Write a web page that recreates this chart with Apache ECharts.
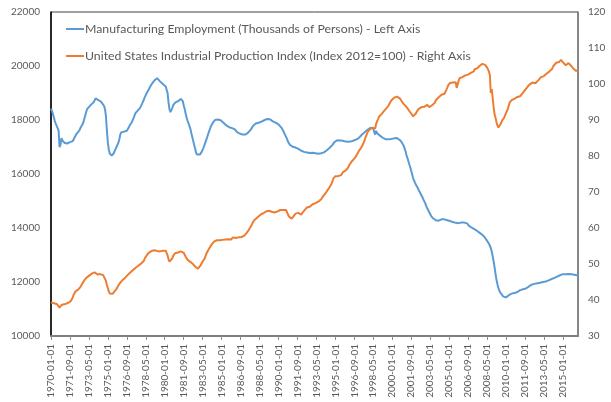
<!DOCTYPE html>
<html>
<head>
<meta charset="utf-8">
<script src="https://cdn.jsdelivr.net/npm/echarts@6/dist/echarts.min.js"></script>
<style>
  html, body { margin: 0; padding: 0; background: #fff; }
  #chart { width: 611px; height: 402px; }
</style>
</head>
<body>
<div id="chart"></div>
<script>
// monthly, 1970-01 .. 2016-05
var startYear = 1970;
var monthCount = 557;

// Manufacturing Employment, thousands of persons (left axis)
var employment = [
  18424, 18342, 18270, 18100, 17960, 17870, 17830, 17700, 17610, 17000, 17080, 17330,
  17240, 17200, 17160, 17180, 17200, 17130, 17150, 17100, 17180, 17160, 17170, 17220,
  17290, 17360, 17420, 17490, 17540, 17560, 17620, 17700, 17760, 17820, 17900, 17960,
  18150, 18280, 18400, 18450, 18480, 18520, 18560, 18580, 18600, 18660, 18720, 18800,
  18780, 18760, 18740, 18720, 18690, 18670, 18640, 18600, 18520, 18400, 18130, 17600,
  17150, 16900, 16760, 16700, 16680, 16690, 16760, 16840, 16900, 16990, 17050, 17150,
  17270, 17450, 17540, 17560, 17580, 17570, 17600, 17620, 17600, 17640, 17720, 17800,
  17860, 17900, 17960, 18060, 18150, 18250, 18300, 18330, 18380, 18400, 18450, 18520,
  18600, 18680, 18760, 18850, 18920, 19000, 19060, 19120, 19180, 19260, 19320, 19370,
  19420, 19460, 19510, 19530, 19550, 19555, 19480, 19430, 19400, 19380, 19330, 19300,
  19270, 19240, 19190, 19000, 18650, 18400, 18290, 18350, 18450, 18550, 18620, 18640,
  18640, 18660, 18700, 18740, 18770, 18780, 18760, 18700, 18550, 18420, 18250, 18100,
  17980, 17880, 17780, 17680, 17520, 17380, 17230, 17080, 16950, 16800, 16720, 16690,
  16700, 16720, 16760, 16820, 16900, 16980, 17080, 17150, 17280, 17390, 17500, 17600,
  17700, 17790, 17850, 17910, 17960, 18000, 18020, 18030, 18020, 18010, 18000, 17990,
  17960, 17930, 17900, 17870, 17840, 17800, 17770, 17740, 17730, 17720, 17710, 17700,
  17700, 17680, 17650, 17600, 17560, 17530, 17520, 17500, 17480, 17470, 17460, 17460,
  17450, 17460, 17470, 17490, 17530, 17560, 17600, 17650, 17700, 17780, 17820, 17850,
  17870, 17880, 17890, 17900, 17910, 17920, 17940, 17950, 17970, 17990, 18010, 18030,
  18040, 18050, 18040, 18030, 18010, 17980, 17950, 17930, 17910, 17900, 17880, 17860,
  17840, 17810, 17780, 17720, 17670, 17600, 17530, 17450, 17390, 17300, 17200, 17130,
  17080, 17040, 17020, 17010, 17000, 16990, 16980, 16970, 16950, 16930, 16900, 16880,
  16860, 16840, 16830, 16820, 16810, 16800, 16800, 16790, 16790, 16780, 16790, 16780,
  16790, 16800, 16780, 16770, 16760, 16750, 16750, 16740, 16760, 16770, 16790, 16800,
  16800, 16820, 16850, 16880, 16910, 16940, 16970, 17000, 17030, 17080, 17130, 17180,
  17220, 17240, 17250, 17260, 17250, 17240, 17230, 17240, 17230, 17220, 17210, 17200,
  17190, 17180, 17190, 17200, 17200, 17210, 17220, 17230, 17250, 17260, 17270, 17290,
  17310, 17340, 17380, 17420, 17460, 17490, 17520, 17550, 17580, 17610, 17640, 17670,
  17700, 17710, 17720, 17700, 17680, 17560, 17460, 17600, 17520, 17480, 17450, 17420,
  17400, 17370, 17340, 17320, 17300, 17290, 17290, 17280, 17290, 17290, 17300, 17300,
  17310, 17320, 17320, 17330, 17330, 17330, 17310, 17280, 17260, 17220, 17180, 17120,
  17050, 16950, 16850, 16700, 16600, 16480, 16360, 16250, 16120, 15990, 15850, 15780,
  15680, 15600, 15540, 15480, 15400, 15340, 15270, 15200, 15130, 15050, 14980, 14900,
  14800, 14730, 14660, 14580, 14510, 14450, 14400, 14360, 14330, 14300, 14290, 14280,
  14280, 14270, 14280, 14300, 14320, 14330, 14330, 14320, 14310, 14300, 14290, 14280,
  14270, 14260, 14240, 14230, 14220, 14210, 14200, 14190, 14180, 14180, 14180, 14190,
  14190, 14200, 14210, 14210, 14200, 14200, 14190, 14170, 14130, 14080, 14050, 14030,
  14010, 13990, 13970, 13950, 13920, 13900, 13880, 13860, 13840, 13800, 13770, 13750,
  13720, 13680, 13630, 13580, 13530, 13480, 13420, 13350, 13260, 13130, 12950, 12760,
  12540, 12300, 12080, 11920, 11780, 11680, 11620, 11560, 11510, 11470, 11450, 11440,
  11430, 11440, 11470, 11510, 11530, 11550, 11570, 11580, 11580, 11590, 11600, 11610,
  11630, 11660, 11680, 11700, 11710, 11720, 11730, 11740, 11750, 11760, 11780, 11800,
  11830, 11860, 11880, 11900, 11910, 11920, 11930, 11940, 11940, 11950, 11950, 11960,
  11970, 11980, 11990, 12000, 12010, 12010, 12020, 12030, 12040, 12060, 12080, 12090,
  12110, 12120, 12140, 12150, 12170, 12180, 12200, 12220, 12240, 12250, 12270, 12280,
  12290, 12300, 12300, 12290, 12290, 12300, 12300, 12290, 12280, 12290, 12290, 12280,
  12270, 12270, 12260, 12250, 12240
];

// Industrial Production Index, 2012=100 (right axis)
var production = [
  39.3, 39.2, 39.2, 39.1, 39.0, 39.0, 38.9, 38.9, 38.5, 37.9, 38.0, 38.6,
  38.7, 38.6, 38.8, 38.9, 39.0, 39.1, 39.1, 39.3, 39.5, 39.8, 40.2, 40.8,
  41.5, 42.0, 42.4, 42.7, 42.9, 43.0, 43.2, 43.6, 44.0, 44.5, 45.0, 45.4,
  45.7, 46.1, 46.3, 46.5, 46.7, 46.9, 47.2, 47.3, 47.4, 47.6, 47.7, 47.5,
  47.3, 47.1, 47.1, 47.0, 47.2, 47.1, 47.0, 46.9, 46.8, 46.4, 45.3, 44.1,
  43.3, 42.4, 41.8, 41.4, 41.5, 41.7, 42.0, 42.4, 42.7, 43.0, 43.5, 44.0,
  44.5, 44.8, 45.1, 45.4, 45.6, 45.9, 46.1, 46.4, 46.7, 47.0, 47.2, 47.5,
  47.6, 47.8, 48.2, 48.4, 48.7, 48.9, 49.1, 49.3, 49.5, 49.7, 49.9, 50.1,
  50.1, 50.4, 50.9, 51.6, 52.0, 52.4, 52.7, 53.1, 53.4, 53.5, 53.6, 53.7,
  53.6, 53.8, 53.7, 53.4, 53.6, 53.7, 53.6, 53.5, 53.7, 53.8, 53.7, 53.7,
  53.8, 53.7, 53.5, 52.4, 51.3, 50.7, 50.5, 50.9, 51.6, 52.3, 52.8, 53.0,
  53.0, 53.1, 53.2, 53.1, 53.4, 53.5, 53.6, 53.5, 53.1, 52.6, 52.1, 51.6,
  51.2, 51.5, 51.1, 50.6, 50.3, 50.1, 49.9, 49.6, 49.3, 49.0, 48.8, 48.7,
  49.0, 49.2, 49.7, 50.2, 50.7, 51.2, 51.5, 52.2, 52.9, 53.4, 53.9, 54.3,
  54.8, 55.2, 55.6, 55.9, 56.2, 56.5, 56.6, 56.6, 56.5, 56.6, 56.6, 56.7,
  56.6, 56.7, 56.8, 56.7, 56.8, 56.7, 56.6, 56.9, 56.8, 56.9, 56.8, 57.1,
  57.4, 57.1, 57.0, 57.2, 57.1, 57.2, 57.4, 57.3, 57.2, 57.5, 57.6, 57.8,
  57.9, 58.3, 58.5, 58.8, 59.2, 59.6, 60.1, 60.6, 61.0, 61.6, 62.0, 62.3,
  62.5, 62.7, 63.0, 63.4, 63.5, 63.7, 63.9, 64.0, 64.1, 64.3, 64.4, 64.6,
  64.7, 64.5, 64.8, 64.7, 64.4, 64.5, 64.2, 64.4, 64.3, 64.2, 64.5, 64.6,
  64.3, 64.8, 65.0, 64.8, 64.9, 65.0, 64.9, 65.1, 65.0, 64.6, 63.8, 63.2,
  63.0, 62.7, 62.6, 62.9, 63.3, 63.8, 64.0, 64.1, 64.3, 64.2, 64.0, 63.9,
  63.7, 64.1, 64.5, 64.8, 65.1, 65.0, 65.7, 65.3, 65.6, 65.9, 66.2, 66.4,
  66.6, 66.7, 66.6, 66.9, 66.8, 67.0, 67.3, 67.4, 67.7, 68.0, 68.4, 68.8,
  69.1, 69.3, 69.8, 70.2, 70.6, 71.0, 71.4, 71.8, 72.3, 72.8, 73.8, 74.3,
  74.4, 74.3, 74.5, 74.4, 74.6, 74.8, 74.7, 75.2, 75.5, 75.6, 75.8, 76.0,
  76.0, 76.6, 76.8, 77.6, 77.9, 78.4, 78.6, 79.0, 79.3, 79.6, 80.1, 80.5,
  80.8, 81.5, 81.9, 82.2, 82.6, 83.2, 83.8, 84.5, 85.3, 85.9, 86.6, 87.1,
  87.3, 87.4, 87.5, 87.9, 88.3, 87.9, 87.6, 88.9, 89.6, 90.2, 90.9, 91.2,
  91.4, 91.7, 92.0, 92.4, 92.8, 92.9, 93.3, 93.6, 93.9, 94.5, 95.0, 95.4,
  95.6, 95.8, 96.2, 96.5, 96.6, 96.5, 96.4, 96.1, 96.0, 95.5, 95.2, 94.8,
  94.5, 94.1, 93.9, 93.6, 93.3, 92.8, 92.5, 92.2, 91.8, 91.3, 91.0, 91.1,
  91.5, 91.8, 92.4, 92.8, 93.1, 93.6, 93.5, 93.6, 93.8, 93.4, 93.7, 93.5,
  94.0, 94.2, 93.9, 93.6, 93.5, 93.7, 94.1, 94.0, 94.6, 94.8, 95.5, 95.9,
  96.0, 96.3, 96.0, 96.4, 97.0, 96.7, 97.2, 97.3, 97.6, 98.3, 98.9, 99.6,
  99.9, 100.3, 100.2, 100.1, 100.4, 100.6, 100.3, 100.5, 98.9, 99.8, 100.8, 101.6,
  101.4, 101.7, 101.9, 102.2, 102.0, 102.4, 102.5, 102.8, 102.6, 102.7, 102.5, 103.1,
  102.8, 103.6, 103.5, 104.1, 104.2, 104.3, 104.4, 104.6, 105.0, 104.8, 105.4, 105.6,
  105.5, 105.2, 105.3, 104.8, 104.6, 104.2, 103.5, 102.5, 97.5, 98.6, 96.0, 93.5,
  91.6, 90.6, 89.4, 88.5, 87.9, 87.6, 88.2, 89.2, 89.9, 90.1, 90.6, 90.9,
  91.9, 92.5, 93.1, 93.6, 94.9, 95.1, 95.5, 95.7, 95.9, 95.9, 96.0, 96.4,
  96.4, 96.2, 96.8, 96.6, 96.9, 97.1, 97.6, 98.1, 98.3, 98.6, 98.7, 99.3,
  99.6, 99.9, 99.6, 100.3, 100.4, 100.2, 100.5, 100.2, 100.5, 100.6, 101.0, 101.4,
  101.5, 101.9, 102.2, 102.1, 102.2, 102.4, 102.2, 102.9, 103.2, 103.1, 103.5, 103.8,
  103.6, 104.3, 105.0, 105.3, 105.5, 105.9, 106.2, 106.3, 106.1, 106.4, 106.7, 106.4,
  106.1, 105.8, 105.6, 105.2, 105.0, 105.3, 105.8, 105.6, 105.3, 105.0, 104.5, 104.3,
  104.4, 104.0, 103.6, 104.1, 104.0
];

var leftTicks = {min: 10000, max: 22000, interval: 2000};
var rightTicks = {min: 30, max: 120, interval: 10};
var labelEvery = 20; // months between x labels

var months = [];
for (var i = 0; i < monthCount; i++) {
  var y = startYear + Math.floor(i / 12);
  var m = (i % 12) + 1;
  months.push(y + '-' + (m < 10 ? '0' + m : m) + '-01');
}

var font = 'Lato, "Open Sans", sans-serif';
var grey = '#595959';

var chart = echarts.init(document.getElementById('chart'));
chart.setOption({
  animation: false,
  backgroundColor: '#fff',
  textStyle: {fontFamily: font},
  grid: {
    left: 51, right: 33, top: 12, bottom: 66,
    show: true, borderColor: '#404040', borderWidth: 1
  },
  legend: {
    orient: 'vertical',
    left: 61, top: 18,
    itemWidth: 18, itemHeight: 2, itemGap: 15,
    icon: 'rect',
    textStyle: {color: grey, fontSize: 12.3, fontFamily: font, padding: [0, 0, 0, -4]},
    data: [
      'Manufacturing Employment (Thousands of Persons) - Left Axis',
      'United States Industrial Production Index (Index 2012=100) - Right Axis'
    ]
  },
  xAxis: {
    type: 'category',
    data: months,
    boundaryGap: false,
    axisLine: {lineStyle: {color: '#7f7f7f', width: 2}},
    axisTick: {show: true, interval: labelEvery - 1, length: 4, lineStyle: {color: '#8c8c8c'}},
    axisLabel: {
      interval: labelEvery - 1, rotate: 90, margin: 8,
      color: grey, fontSize: 10, fontFamily: font
    },
    splitLine: {show: false}
  },
  yAxis: [
    {
      type: 'value',
      min: leftTicks.min, max: leftTicks.max, interval: leftTicks.interval,
      axisLine: {show: true, lineStyle: {color: '#000', width: 1.5}},
      axisTick: {show: false},
      axisLabel: {
        color: grey, fontSize: 10, margin: 11, fontFamily: font,
        formatter: function (v) { return String(v); }
      },
      splitLine: {show: false}
    },
    {
      type: 'value',
      min: rightTicks.min, max: rightTicks.max, interval: rightTicks.interval,
      axisLine: {show: true, lineStyle: {color: '#7f7f7f', width: 1.5}},
      axisTick: {show: false},
      axisLabel: {
        color: grey, fontSize: 10, margin: 10, fontFamily: font,
        formatter: function (v) { return String(v); }
      },
      splitLine: {show: false}
    }
  ],
  series: [
    {
      name: 'Manufacturing Employment (Thousands of Persons) - Left Axis',
      type: 'line',
      yAxisIndex: 0,
      data: employment,
      showSymbol: false,
      color: '#5B9BD5',
      lineStyle: {width: 2, color: '#5B9BD5'}
    },
    {
      name: 'United States Industrial Production Index (Index 2012=100) - Right Axis',
      type: 'line',
      yAxisIndex: 1,
      data: production,
      showSymbol: false,
      color: '#ED7D31',
      lineStyle: {width: 2, color: '#ED7D31'}
    }
  ]
});
</script>
</body>
</html>
